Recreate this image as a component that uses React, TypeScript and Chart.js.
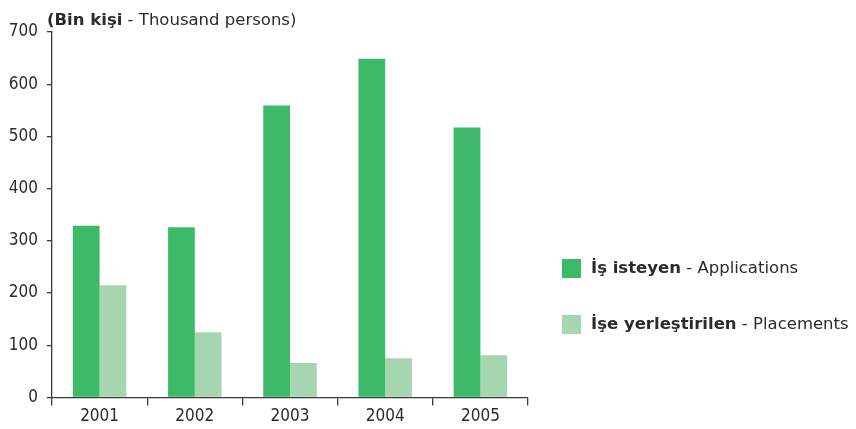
import React, { useEffect, useRef } from "react";
import { Chart, registerables } from "chart.js";

Chart.register(...registerables);

const years = ["2001", "2002", "2003", "2004", "2005"];
const applications = [329, 326, 559, 649, 517];
const placements = [215, 125, 66, 75, 81];
const yTicks = [0, 100, 200, 300, 400, 500, 600, 700];

const titleBold = "(Bin kişi";
const titleNormal = " - Thousand persons)";
const seriesBold = ["İş isteyen", "İşe yerleştirilen"];
const seriesNormal = [" - Applications", " - Placements"];
const seriesColors = ["#3db96a", "#a6d6b0"];

const FONT = "'DejaVu Sans Condensed', 'DejaVu Sans', sans-serif";
const TFONT = "'DejaVu Sans', sans-serif";
const TEXT = "#2b2b2b";
const AXIS = "#3a3a3a";

const overlay = {
  id: "overlay",
  afterDraw(chart: any) {
    const ctx = chart.ctx;
    ctx.save();
    ctx.fillStyle = TEXT;
    ctx.textBaseline = "alphabetic";
    ctx.textAlign = "left";
    // title
    ctx.font = `bold 16.5px ${TFONT}`;
    let x = 47;
    ctx.fillText(titleBold, x, 25);
    x += ctx.measureText(titleBold).width;
    ctx.font = `16.5px ${TFONT}`;
    ctx.fillText(titleNormal, x, 25);
    // legend
    const tops = [259, 315];
    chart.data.datasets.forEach((ds: any, i: number) => {
      ctx.fillStyle = ds.backgroundColor;
      ctx.fillRect(562, tops[i], 19, 19);
      ctx.fillStyle = TEXT;
      ctx.textBaseline = "middle";
      let lx = 591;
      ctx.font = `bold 16.5px ${TFONT}`;
      ctx.fillText(seriesBold[i], lx, tops[i] + 10);
      lx += ctx.measureText(seriesBold[i]).width;
      ctx.font = `16.5px ${TFONT}`;
      ctx.fillText(seriesNormal[i], lx, tops[i] + 10);
    });
    ctx.restore();
  },
};

export default function App() {
  const ref = useRef<HTMLCanvasElement | null>(null);
  useEffect(() => {
    if (!ref.current) return;
    const chart = new Chart(ref.current, {
      type: "bar",
      data: {
        labels: years,
        datasets: [
          {
            label: seriesBold[0] + seriesNormal[0],
            data: applications,
            backgroundColor: seriesColors[0],
            borderWidth: 0,
          },
          {
            label: seriesBold[1] + seriesNormal[1],
            data: placements,
            backgroundColor: seriesColors[1],
            borderWidth: 0,
          },
        ],
      },
      options: {
        responsive: false,
        animation: false,
        layout: { padding: { left: 0, right: 328, top: 32, bottom: 0 } },
        datasets: { bar: { categoryPercentage: 0.562, barPercentage: 1 } },
        plugins: { legend: { display: false }, tooltip: { enabled: false }, title: { display: false } },
        scales: {
          x: {
            afterFit: (s: any) => { s.height = 31.5; },
            grid: {
              offset: true,
              drawOnChartArea: false,
              drawTicks: true,
              tickLength: 8,
              color: AXIS,
              lineWidth: 1.3,
            },
            border: { display: true, color: AXIS, width: 1.3 },
            ticks: { color: TEXT, font: { family: FONT, size: 17 }, padding: 1 },
          },
          y: {
            min: 0,
            max: 700,
            afterFit: (s: any) => { s.width = 52; },
            afterBuildTicks: (s: any) => { s.ticks = yTicks.map((v) => ({ value: v })); },
            grid: {
              drawOnChartArea: false,
              drawTicks: true,
              tickLength: 5,
              color: AXIS,
              lineWidth: 1.3,
            },
            border: { display: true, color: AXIS, width: 1.3 },
            ticks: { color: TEXT, font: { family: FONT, size: 17 }, padding: 9 },
          },
        },
      },
      plugins: [overlay],
    });
    return () => chart.destroy();
  }, []);
  return (
    <div style={{ position: "fixed", left: 0, top: 0, width: 856, height: 429, background: "#fff" }}>
      <canvas ref={ref} width={856} height={429} style={{ display: "block" }} />
    </div>
  );
}
